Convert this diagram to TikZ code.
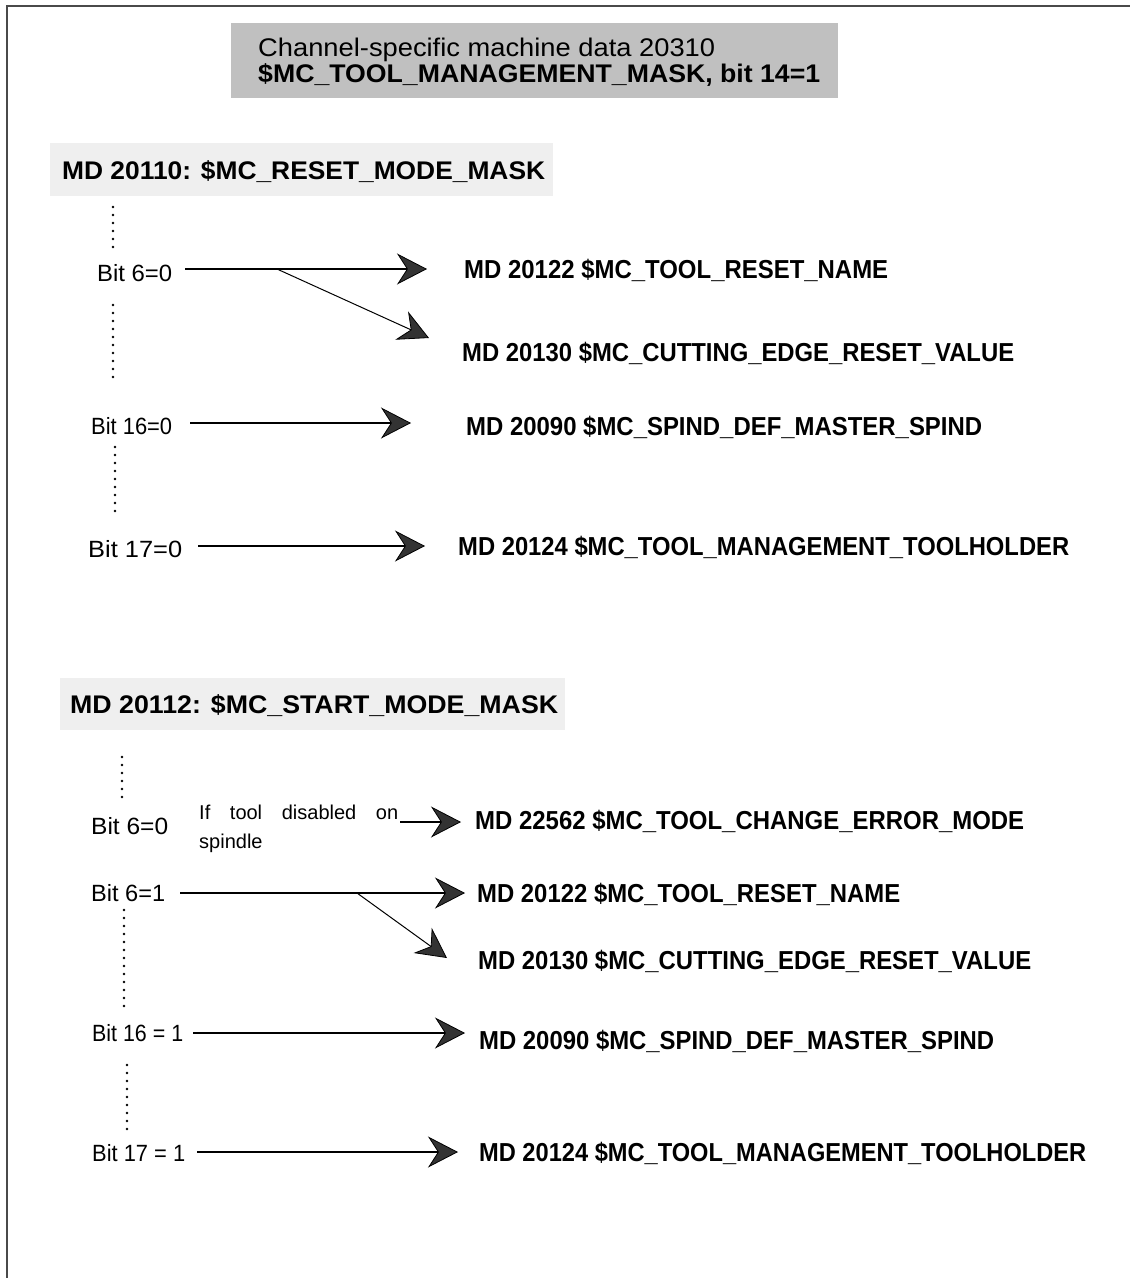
\documentclass[tikz,border=0pt]{standalone}
\usepackage{fontspec}
\usepackage{graphicx}
\setmainfont{Liberation Sans}
\usetikzlibrary{arrows.meta}
\definecolor{framegray}{HTML}{4A4A4A}
\definecolor{titlegray}{HTML}{C0C0C0}
\definecolor{headgray}{HTML}{EFEFEF}
\definecolor{tipgray}{HTML}{333333}
\newcommand{\fw}[2]{\resizebox{#1}{\height}{#2}}
\tikzset{
  bitlbl/.style={anchor=base west, inner sep=0pt, font=\fontsize{23.5}{26}\selectfont},
  mdlbl/.style={anchor=base west, inner sep=0pt, font=\bfseries\fontsize{26}{29}\selectfont},
  headlbl/.style={anchor=base west, inner sep=0pt, font=\bfseries\fontsize{25.5}{28}\selectfont},
  titlelbl/.style={anchor=base west, inner sep=0pt, font=\fontsize{25.5}{28}\selectfont},
  smalllbl/.style={anchor=base west, inner sep=0pt, font=\fontsize{20}{23}\selectfont},
  conn/.style={line width=1.3pt, -{Stealth[length=30pt,width=31pt,inset=10pt,fill=tipgray,line width=0.8pt]}},
  branch/.style={line width=1pt, -{Stealth[length=30pt,width=31pt,inset=10pt,fill=tipgray,line width=0.8pt]}},
  dotline/.style={line width=2.8pt, dash pattern=on 0pt off 8pt, line cap=round},
  frameline/.style={line width=2pt, draw=framegray}
}
\begin{document}
\begin{tikzpicture}[x=1pt,y=-1pt]
\useasboundingbox (0,0) rectangle (1130,1278);
\fill[white] (0,0) rectangle (1130,1278);
% frame
\draw[frameline] (7,1278) -- (7,6) -- (1130,6);
% title box
\fill[titlegray] (231,23) rectangle (838,98);
\node[titlelbl] (title1) at (258,56) {\fw{457pt}{Channel-specific machine data 20310}};
\node[titlelbl, font=\bfseries\fontsize{25.5}{28}\selectfont] (title2) at (258,82.5) {\fw{562pt}{\$MC\_TOOL\_MANAGEMENT\_MASK, bit 14=1}};
% heading 1
\fill[headgray] (50,143) rectangle (553,196);
\node[headlbl] (head1) at (62,179) {\fw{483pt}{MD 20110: \$MC\_RESET\_MODE\_MASK}};
% upper section
\draw[dotline] (113,207) -- (113,247);
\node[bitlbl] (b1) at (97,281.5) {\fw{75pt}{Bit 6=0}};
\coordinate (s1) at (185,269);
\coordinate (j1) at (277,269);
\coordinate (t1) at (427,269);
\coordinate (t2) at (429,338);
\draw[conn] (s1) -- (t1);
\draw[branch] (j1) -- (t2);
\node[mdlbl] (l1) at (464,278.5) {\fw{424pt}{MD 20122 \$MC\_TOOL\_RESET\_NAME}};
\draw[dotline] (113,305) -- (113,383);
\node[mdlbl] (l2) at (462,361.5) {\fw{552pt}{MD 20130 \$MC\_CUTTING\_EDGE\_RESET\_VALUE}};
\node[bitlbl] (b2) at (91,434.5) {\fw{81pt}{Bit 16=0}};
\coordinate (s3) at (190,423);
\coordinate (t3) at (411,423);
\draw[conn] (s3) -- (t3);
\node[mdlbl] (l3) at (466,435.5) {\fw{516pt}{MD 20090 \$MC\_SPIND\_DEF\_MASTER\_SPIND}};
\draw[dotline] (115,447) -- (115,515);
\node[bitlbl] (b3) at (88,557.5) {\fw{94pt}{Bit 17=0}};
\coordinate (s4) at (198,546);
\coordinate (t4) at (425,546);
\draw[conn] (s4) -- (t4);
\node[mdlbl] (l4) at (458,555.5) {\fw{611pt}{MD 20124 \$MC\_TOOL\_MANAGEMENT\_TOOLHOLDER}};
% heading 2
\fill[headgray] (60,678) rectangle (565,730);
\node[headlbl] (head2) at (70,713) {\fw{488pt}{MD 20112: \$MC\_START\_MODE\_MASK}};
% lower section
\draw[dotline] (122,757) -- (122,797);
\node[bitlbl] (b4) at (91,834.5) {\fw{77pt}{Bit 6=0}};
\node[smalllbl] (if1) at (199,819) {\makebox[199pt][s]{If tool disabled on}};
\node[smalllbl] (if2) at (199,848) {spindle};
\coordinate (s5) at (400,822);
\coordinate (t5) at (461,822);
\draw[conn] (s5) -- (t5);
\node[mdlbl] (l5) at (475,829.5) {\fw{549pt}{MD 22562 \$MC\_TOOL\_CHANGE\_ERROR\_MODE}};
\node[bitlbl] (b5) at (91,901.5) {\fw{74pt}{Bit 6=1}};
\coordinate (s6) at (180,893);
\coordinate (j6) at (357,893);
\coordinate (t6) at (465,893);
\coordinate (t7) at (447,958);
\draw[conn] (s6) -- (t6);
\draw[branch] (j6) -- (t7);
\node[mdlbl] (l6) at (477,902.5) {\fw{423pt}{MD 20122 \$MC\_TOOL\_RESET\_NAME}};
\draw[dotline] (124,910) -- (124,1007);
\node[mdlbl] (l7) at (478,969.5) {\fw{553pt}{MD 20130 \$MC\_CUTTING\_EDGE\_RESET\_VALUE}};
\node[bitlbl] (b6) at (92,1041.5) {\fw{91pt}{Bit 16 = 1}};
\coordinate (s8) at (193,1033);
\coordinate (t8) at (465,1033);
\draw[conn] (s8) -- (t8);
\node[mdlbl] (l8) at (479,1049.5) {\fw{515pt}{MD 20090 \$MC\_SPIND\_DEF\_MASTER\_SPIND}};
\draw[dotline] (127,1065) -- (127,1135);
\node[bitlbl] (b7) at (92,1161.5) {\fw{93pt}{Bit 17 = 1}};
\coordinate (s9) at (197,1152);
\coordinate (t9) at (458,1152);
\draw[conn] (s9) -- (t9);
\node[mdlbl] (l9) at (479,1161.5) {\fw{607pt}{MD 20124 \$MC\_TOOL\_MANAGEMENT\_TOOLHOLDER}};
\end{tikzpicture}
\end{document}
